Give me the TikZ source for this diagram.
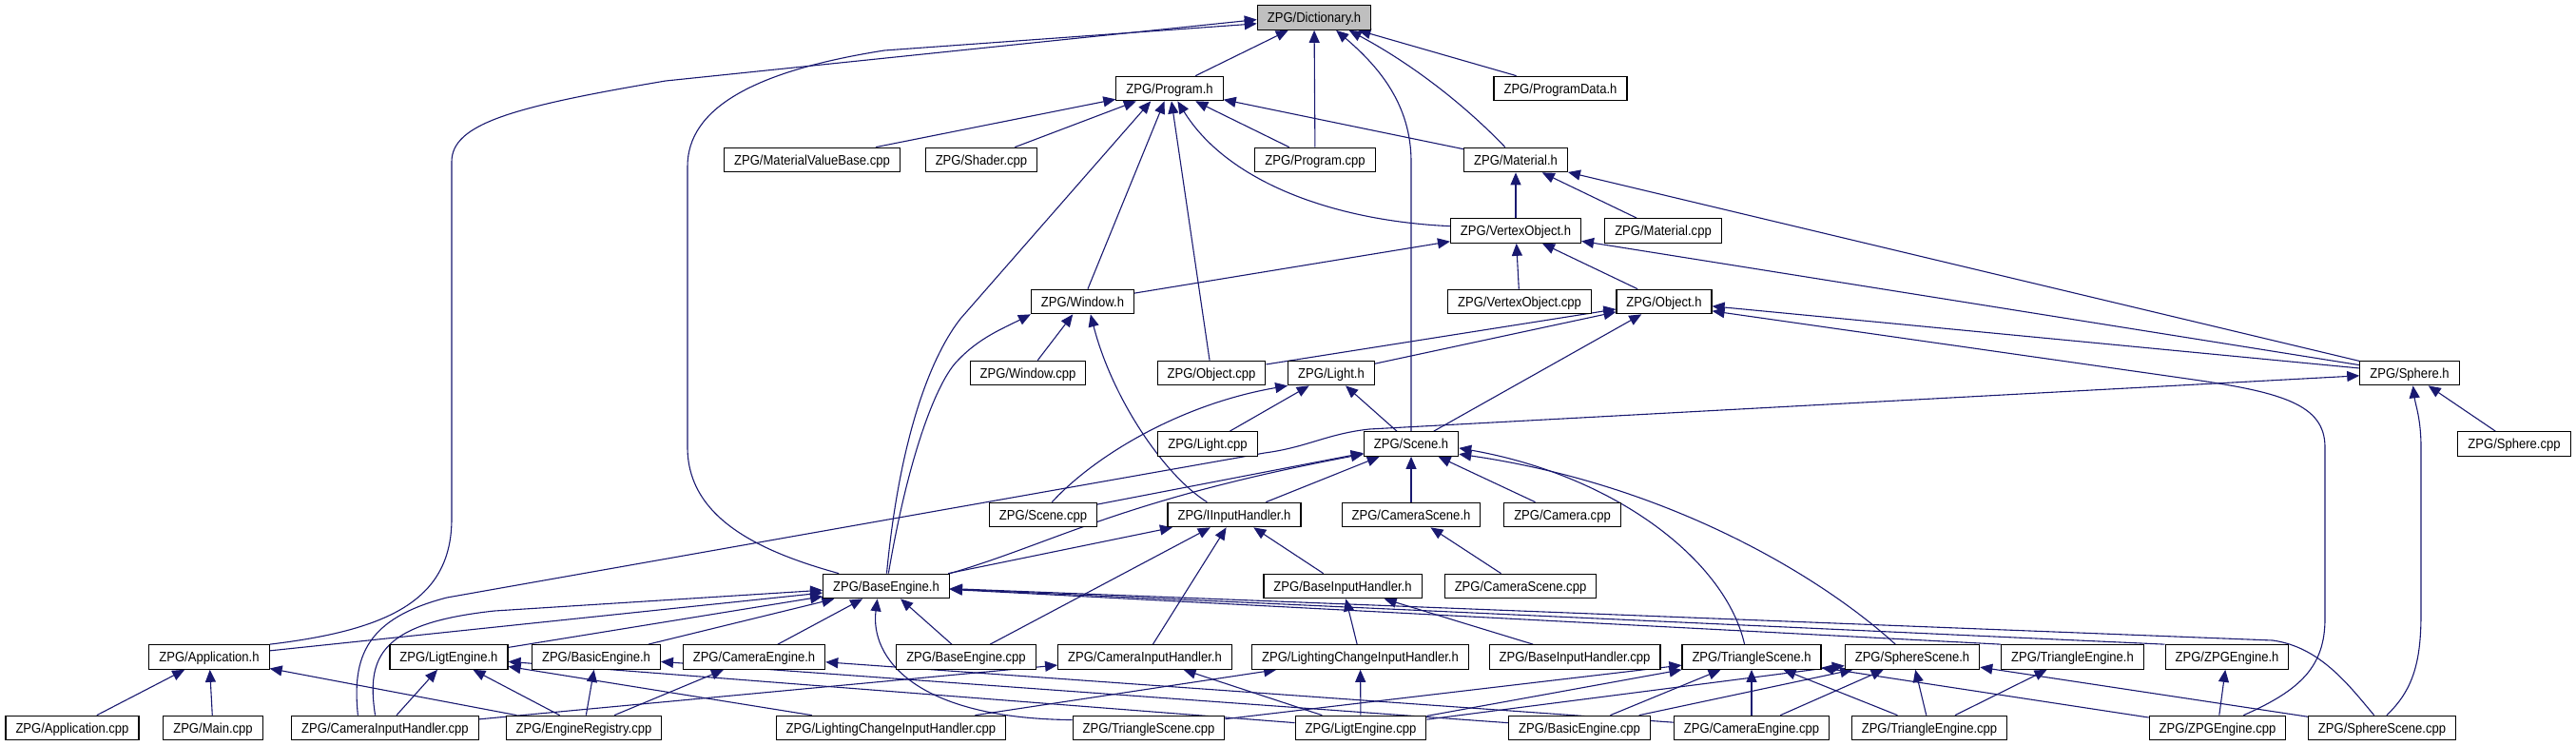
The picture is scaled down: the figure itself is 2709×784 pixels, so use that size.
\documentclass[tikz,border=0pt]{standalone}
\usepackage{fontspec}
\setmainfont{Liberation Sans}[FakeStretch=0.9]
\usepackage{tikz}
\usetikzlibrary{arrows.meta,backgrounds}
\definecolor{EdgeBlue}{HTML}{191970}
\definecolor{FocusGray}{HTML}{BFBFBF}

\begin{document}
\begin{tikzpicture}[
  x=1pt, y=-1pt,
  file/.style={draw=black, line width=1.1pt, fill=white, minimum height=25.6pt,
    inner xsep=10.5pt, inner ysep=0pt, text height=10.4pt, text depth=0pt,
    font=\fontsize{14.5}{16}\selectfont},
  focus/.style={file, fill=FocusGray},
  inc/.style={draw=EdgeBlue, line width=1.1pt, -{Triangle[length=13pt,width=11pt]}}
]
\useasboundingbox (0,0) rectangle (2709,784);

% files, one rank of the include graph at a time
\node[focus] (dict) at (1382,18.5) {ZPG/Dictionary.h};
\foreach \n/\x/\fname in {progh/1230/Program.h, progdata/1641/ProgramData.h}
  \node[file] (\n) at (\x,93) {ZPG/\fname};
\foreach \n/\x/\fname in {mvbase/854/MaterialValueBase.cpp, shader/1032/Shader.cpp,
    progcpp/1383/Program.cpp, math/1594/Material.h}
  \node[file] (\n) at (\x,168) {ZPG/\fname};
\foreach \n/\x/\fname in {vobjh/1594/VertexObject.h, matcpp/1749/Material.cpp}
  \node[file] (\n) at (\x,242.5) {ZPG/\fname};
\foreach \n/\x/\fname in {winh/1138.5/Window.h, vobjcpp/1598/VertexObject.cpp, objh/1750/Object.h}
  \node[file] (\n) at (\x,317) {ZPG/\fname};
\foreach \n/\x/\fname in {wincpp/1081/Window.cpp, objcpp/1274/Object.cpp,
    lighth/1400/Light.h, sphereh/2534/Sphere.h}
  \node[file] (\n) at (\x,392) {ZPG/\fname};
\foreach \n/\x/\fname in {lightcpp/1270/Light.cpp, sceneh/1484/Scene.h, spherecpp/2644/Sphere.cpp}
  \node[file] (\n) at (\x,466.5) {ZPG/\fname};
\foreach \n/\x/\fname in {scenecpp/1097/Scene.cpp, iinput/1298/IInputHandler.h,
    camsceneh/1484/CameraScene.h, camcpp/1643/Camera.cpp}
  \node[file] (\n) at (\x,541) {ZPG/\fname};
\foreach \n/\x/\fname in {baseh/932/BaseEngine.h, baseinh/1412/BaseInputHandler.h,
    camscenecpp/1599/CameraScene.cpp}
  \node[file] (\n) at (\x,616) {ZPG/\fname};
\foreach \n/\x/\fname in {apph/220/Application.h, ligth/472/LigtEngine.h, basich/627/BasicEngine.h,
    camengh/793/CameraEngine.h, basecpp/1016/BaseEngine.cpp, caminh/1204/CameraInputHandler.h,
    lcinh/1430.5/LightingChangeInputHandler.h, baseincpp/1656/BaseInputHandler.cpp,
    trih/1842/TriangleScene.h, sphsceneh/2011/SphereScene.h, triengh/2179.5/TriangleEngine.h,
    zpgh/2342/ZPGEngine.h}
  \node[file] (\n) at (\x,690.5) {ZPG/\fname};
\foreach \n/\x/\fname in {appcpp/76/Application.cpp, maincpp/224/Main.cpp,
    camincpp/405/CameraInputHandler.cpp, regcpp/614/EngineRegistry.cpp,
    lcincpp/937/LightingChangeInputHandler.cpp, tricpp/1208/TriangleScene.cpp,
    ligtcpp/1431/LigtEngine.cpp, basiccpp/1661/BasicEngine.cpp, camengcpp/1842/CameraEngine.cpp,
    triengcpp/2029/TriangleEngine.cpp, zpgcpp/2332/ZPGEngine.cpp, sphscenecpp/2505/SphereScene.cpp}
  \node[file] (\n) at (\x,765) {ZPG/\fname};

\begin{scope}[on background layer]
% includer -> included
\foreach \a/\b in {progh/dict, progcpp/dict, progdata/dict,
    mvbase/progh, shader/progh, objcpp/progh, progcpp/progh, math/progh, winh/progh,
    vobjh/math, matcpp/math, sphereh/math,
    vobjcpp/vobjh, objh/vobjh, sphereh/vobjh, winh/vobjh, wincpp/winh,
    objcpp/objh, lighth/objh, sceneh/objh, sphereh/objh,
    lightcpp/lighth, sceneh/lighth,
    iinput/sceneh, camsceneh/sceneh, camcpp/sceneh, scenecpp/sceneh,
    basecpp/iinput, caminh/iinput, baseinh/iinput, baseh/iinput,
    camscenecpp/camsceneh, lcinh/baseinh, baseincpp/baseinh, spherecpp/sphereh,
    appcpp/apph, maincpp/apph, regcpp/apph,
    apph/baseh, ligth/baseh, basich/baseh, camengh/baseh, basecpp/baseh,
    triengh.north west/baseh, zpgh.north west/baseh,
    camincpp/ligth, regcpp/ligth, ligtcpp/ligth, lcincpp/ligth,
    regcpp/basich, basiccpp/basich, regcpp/camengh, camengcpp/camengh,
    camincpp/caminh, ligtcpp/caminh, lcincpp/lcinh, ligtcpp/lcinh,
    ligtcpp/trih, tricpp/trih, basiccpp/trih, camengcpp/trih, triengcpp/trih, zpgcpp/trih,
    ligtcpp/sphsceneh, basiccpp/sphsceneh, camengcpp/sphsceneh, triengcpp/sphsceneh,
    sphscenecpp/sphsceneh, triengcpp/triengh, zpgcpp/zpgh}
  \draw[inc] (\a) -- (\b);

% the long, bent ones
\draw[inc] (apph.north east) .. controls (410,662) and (475,630) .. (475,545) -- (475,170)
  .. controls (475,130) and (540,112) .. (700,85) -- (dict.182);
\draw[inc] (baseh.165) .. controls (800,580) and (723,545) .. (723,470) -- (723,175)
  .. controls (723,115) and (790,75) .. (930,53) -- (dict.186);
\draw[inc] (sceneh.north) -- (1484,170) .. controls (1484,110) and (1450,70) .. (dict.-30);
\draw[inc] (math.130) .. controls (1545,115) and (1490,70) .. (dict.-20);
\draw[inc] (vobjh.176) .. controls (1400,232) and (1290,190) .. (progh.-58);
\draw[inc] (baseh.88) .. controls (945,470) and (975,380) .. (1010,335) -- (progh.-146);
\draw[inc] (baseh.80) .. controls (955,480) and (985,400) .. (1008,378)
  .. controls (1030,355) and (1055,345) .. (winh.south west);
\draw[inc] (iinput.155) .. controls (1225,500) and (1170,420) .. (winh.-58);
\draw[inc] (scenecpp.55) .. controls (1150,480) and (1240,425) .. (lighth.south west);
\draw[inc] (trih.119) .. controls (1815,590) and (1700,500) .. (sceneh.-5);
\draw[inc] (sphsceneh.143) .. controls (1920,610) and (1760,510) .. (sceneh.-12);
\draw[inc] (baseh.north east) .. controls (1110,570) and (1180,525) .. (sceneh.192);
\draw[inc] (camincpp.155) .. controls (370,690) and (385,650) .. (470,628) -- (1330,476)
  .. controls (1375,470) and (1395,456) .. (1440,451) -- (sphereh);
\draw[inc] (camincpp.128) .. controls (385,690) and (400,655) .. (520,642) -- (baseh);
\draw[inc] (sphscenecpp.70) .. controls (2538,725) and (2546,695) .. (2546,645) -- (2546,470)
  .. controls (2546,440) and (2540,425) .. (sphereh.-75);
\draw[inc] (zpgcpp.26) .. controls (2420,725) and (2445,700) .. (2445,650) -- (2445,470)
  .. controls (2445,425) and (2400,412) .. (2300,398) -- (objh.-11);
\draw[inc] (tricpp.174) .. controls (960,755) and (915,690) .. (baseh.-125);
\draw[inc] (sphscenecpp.122) .. controls (2470,720) and (2440,680) .. (2390,673) -- (baseh);
\end{scope}
\end{tikzpicture}
\end{document}
